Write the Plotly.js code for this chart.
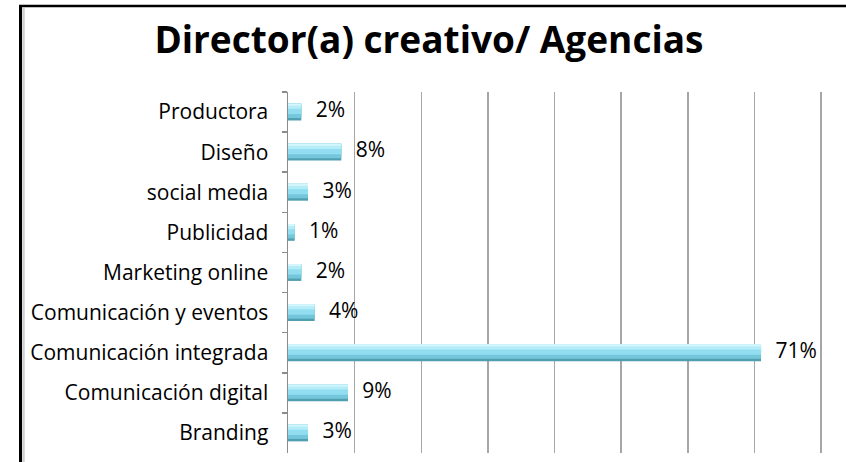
<!DOCTYPE html>
<html>
<head>
<meta charset="utf-8">
<script src="https://cdn.plot.ly/plotly-3.0.1.min.js"></script>
<style>
html,body{margin:0;padding:0;background:#fff;overflow:hidden;}
#chart{width:846px;height:462px;}
</style>
</head>
<body>
<div id="chart"></div>
<script>
const categories = ["Productora","Diseño","social media","Publicidad","Marketing online","Comunicación y eventos","Comunicación integrada","Comunicación digital","Branding"];
const values = [2, 8, 3, 1, 2, 4, 71, 9, 3];
const tickValues = [0,10,20,30,40,50,60,70,80];
const labels = values.map(v => "\u00a0\u00a0\u2009" + v + "%");

const FONT = "'Open Sans', 'Noto Sans', sans-serif";

// plot area in pixels (used only to place the decorative frame)
const PL = 288, PR = 823, PT = 92, PB = 453;
const px = x => (x - PL) / (PR - PL);
const py = y => (PB - y) / (PB - PT);

const base = {
  type: "bar", orientation: "h", x: values, y: categories,
  hoverinfo: "skip", showlegend: false
};
const layers = [
  {width: 0.42, offset: -0.21, color: "#4f9fb0"},
  {width: 0.36, offset: -0.21, color: "#74c7da"},
  {width: 0.26, offset: -0.21, color: "#92def0"},
  {width: 0.13, offset: -0.21, color: "#b4ecf7"},
  {width: 0.05, offset: -0.21, color: "#d6f6fb"}
];
const traces = layers.map(l => Object.assign({}, base, {
  width: l.width, offset: l.offset, marker: {color: l.color, line: {width: 0}}
}));
traces.push({
  type: "scatter", mode: "text", x: values, y: categories, text: labels,
  textposition: "middle right", textfont: {family: FONT, size: 21, color: "#000"},
  hoverinfo: "skip", showlegend: false, cliponaxis: false
});

const layout = {
  width: 846, height: 462,
  margin: {l: PL, r: 846 - PR, t: PT, b: 462 - PB},
  paper_bgcolor: "#fff", plot_bgcolor: "#fff",
  barmode: "overlay",
  title: {
    text: "<b>Director(a) creativo/ Agencias</b>",
    font: {family: FONT, size: 37, color: "#000"},
    xref: "container", x: 0.507, xanchor: "center",
    yref: "container", y: 0.913, yanchor: "middle"
  },
  xaxis: {
    range: [0, 80.3], tickvals: tickValues, showticklabels: false,
    showgrid: true, gridcolor: "#a6a6a6", gridwidth: 1.5,
    zeroline: false, showline: false, ticks: ""
  },
  yaxis: {
    type: "category", categoryorder: "array", categoryarray: categories,
    autorange: "reversed",
    showline: true, linecolor: "#8c8c8c", linewidth: 1.5,
    ticks: "outside", tickson: "boundaries", ticklen: 5, tickcolor: "#8c8c8c", tickwidth: 1.5,
    ticklabelstandoff: 14,
    tickfont: {family: FONT, size: 21, color: "#000"},
    showgrid: false, zeroline: false
  },
  shapes: [
    {type: "line", xref: "paper", yref: "paper",
     x0: px(23.5), x1: px(23.5), y0: py(500), y1: py(8),
     line: {color: "#cfcfcf", width: 2.5}, layer: "below"},
    {type: "line", xref: "paper", yref: "paper",
     x0: px(20.5), x1: px(20.5), y0: py(500), y1: py(6),
     line: {color: "#000", width: 3}, layer: "below"},
    {type: "line", xref: "paper", yref: "paper",
     x0: px(19), x1: px(900), y0: py(6), y1: py(6),
     line: {color: "#000", width: 2.5}, layer: "below"}
  ]
};

Plotly.newPlot("chart", traces, layout, {displayModeBar: false, staticPlot: true});
</script>
</body>
</html>
